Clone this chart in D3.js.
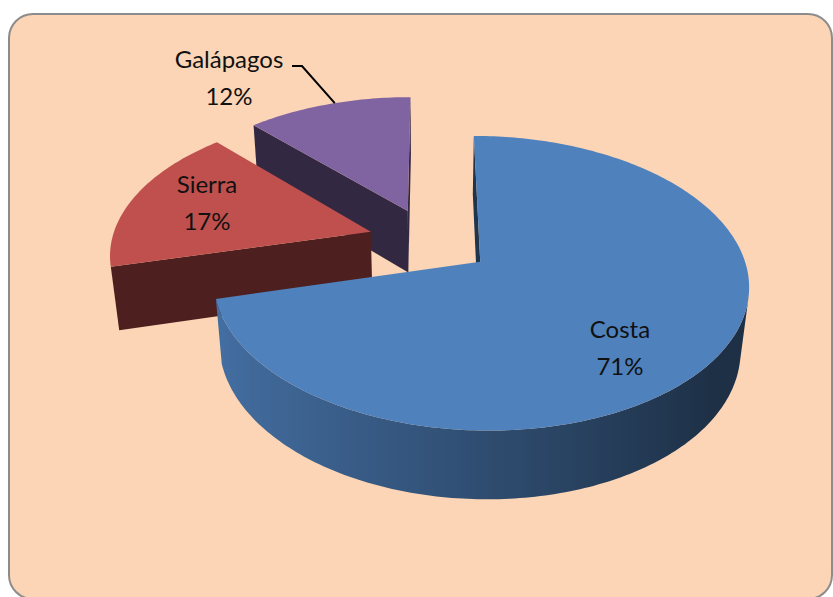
<!DOCTYPE html>
<html>
<head>
<meta charset="utf-8">
<script src="https://cdn.jsdelivr.net/npm/d3@7"></script>
<style>
body { margin: 0; background: #fff; }
svg { display: block; }
text { font-family: Lato, "Open Sans", sans-serif; font-size: 24px; fill: #111; }
</style>
</head>
<body>
<svg id="chart"></svg>
<script>
const width = 833, height = 597;

// data
const regions = ["Costa", "Sierra", "Galápagos"];
const shares = [71, 17, 12];
const topColors = ["#4F81BD", "#C0504D", "#8064A2"];
// label anchor (baseline of first line, centre)
const labelPos = [[620, 338], [207, 193], [229, 68]];

// 3d setup (pie radius = 1)
const thick = 0.293;
const explode = 0.24;
const phi = 32.2 * Math.PI / 180;
const cosP = Math.cos(phi), sinP = Math.sin(phi);
const E = 7.0, H = 1815;
const D = E * cosP, f = H * cosP;
const cx = 430, cy = 241;
const cam = [0, D * sinP, -D * cosP];

function project(X, Y, Z) {
    const yv = Y * cosP + Z * sinP;
    const zv = D + Z * cosP - Y * sinP;
    return [cx + f * X / zv, cy - f * yv / zv];
}

const svg = d3.select("#chart")
    .attr("width", width)
    .attr("height", height);

const defs = svg.append("defs");

// chart area
svg.append("rect")
    .attr("x", 9).attr("y", 14)
    .attr("width", 823).attr("height", 585)
    .attr("rx", 24)
    .attr("fill", "#FBD5B5")
    .attr("stroke", "#8C8C8C")
    .attr("stroke-width", 2);

const pie = d3.pie().sort(null).value(d => d);
const arcs = pie(shares).map((a, i) => {
    const mid = (a.startAngle + a.endAngle) / 2;
    return {
        name: regions[i],
        value: a.value,
        i: i,
        a0: a.startAngle,
        a1: a.endAngle,
        ox: explode * Math.sin(mid),
        oz: explode * Math.cos(mid)
    };
});

function shade(color, k) {
    const c = d3.rgb(color);
    return d3.rgb(c.r * k, c.g * k, c.b * k).formatHex();
}

function lightOf(theta) {
    // light coming from the left
    return Math.max(0.37, Math.min(0.9, 0.59 - 0.28 * Math.sin(theta)));
}

function facing(p, n) {
    return (cam[0] - p[0]) * n[0] + (cam[1] - p[1]) * n[1] + (cam[2] - p[2]) * n[2] > 0;
}

const line = d3.line();
const pieG = svg.append("g");

// draw back slices first
const order = arcs.slice().sort((a, b) => b.oz - a.oz);

order.forEach(s => {
    const g = pieG.append("g").attr("class", "slice");
    const rim = (t, y) => project(s.ox + Math.sin(t), y, s.oz + Math.cos(t));
    const apex = y => project(s.ox, y, s.oz);

    // radial faces
    [[s.a0, s.a0 - Math.PI / 2], [s.a1, s.a1 + Math.PI / 2]].forEach(([t, nt]) => {
        const n = [Math.sin(nt), 0, Math.cos(nt)];
        const p = [s.ox + Math.sin(t) / 2, -thick / 2, s.oz + Math.cos(t) / 2];
        if (!facing(p, n)) return;
        g.append("path")
            .attr("d", line([apex(0), rim(t, 0), rim(t, -thick), apex(-thick)]) + "Z")
            .attr("fill", shade(topColors[s.i], 0.4));
    });

    // outer wall, split into visible runs
    const steps = Math.max(8, Math.ceil((s.a1 - s.a0) / (Math.PI / 180)));
    const ts = d3.range(steps + 1).map(k => s.a0 + (s.a1 - s.a0) * k / steps);
    let runs = [], cur = null;
    for (let k = 0; k < steps; k++) {
        const tm = (ts[k] + ts[k + 1]) / 2;
        const n = [Math.sin(tm), 0, Math.cos(tm)];
        const p = [s.ox + n[0], -thick / 2, s.oz + n[2]];
        if (facing(p, n)) {
            if (!cur) { cur = [ts[k]]; runs.push(cur); }
            cur.push(ts[k + 1]);
        } else cur = null;
    }
    runs.forEach((run, ri) => {
        const pts = run.map(t => rim(t, 0)).concat(run.slice().reverse().map(t => rim(t, -thick)));
        const xs = run.map(t => rim(t, 0)[0]);
        const x0 = d3.min(xs), x1 = d3.max(xs);
        const gid = "wall" + s.i + "_" + ri;
        const grad = defs.append("linearGradient")
            .attr("id", gid)
            .attr("gradientUnits", "userSpaceOnUse")
            .attr("x1", x0).attr("x2", x1).attr("y1", 0).attr("y2", 0);
        const sorted = run.slice().sort((a, b) => rim(a, 0)[0] - rim(b, 0)[0]);
        sorted.forEach(t => {
            const off = x1 > x0 ? (rim(t, 0)[0] - x0) / (x1 - x0) : 0;
            grad.append("stop")
                .attr("offset", off)
                .attr("stop-color", shade(topColors[s.i], lightOf(t)));
        });
        g.append("path")
            .attr("d", line(pts) + "Z")
            .attr("fill", "url(#" + gid + ")");
    });

    // top face
    const topPts = [apex(0)].concat(ts.map(t => rim(t, 0)));
    g.append("path")
        .attr("d", line(topPts) + "Z")
        .attr("fill", topColors[s.i]);
});

// labels
const labels = svg.append("g");
arcs.forEach(s => {
    const [lx, ly] = labelPos[s.i];
    const t = labels.append("text")
        .attr("text-anchor", "middle")
        .attr("x", lx).attr("y", ly);
    t.append("tspan").attr("x", lx).text(s.name);
    t.append("tspan").attr("x", lx).attr("dy", 37).text(s.value + "%");
});

// leader line for the small slice (Galápagos)
const gal = arcs[2];
const mid = (gal.a0 + gal.a1) / 2 + 0.03;
const tip = project(gal.ox + Math.sin(mid), 0, gal.oz + Math.cos(mid));
labels.append("path")
    .attr("d", line([[292, 66], [302, 66], tip]))
    .attr("fill", "none")
    .attr("stroke", "#000")
    .attr("stroke-width", 2);
</script>
</body>
</html>
